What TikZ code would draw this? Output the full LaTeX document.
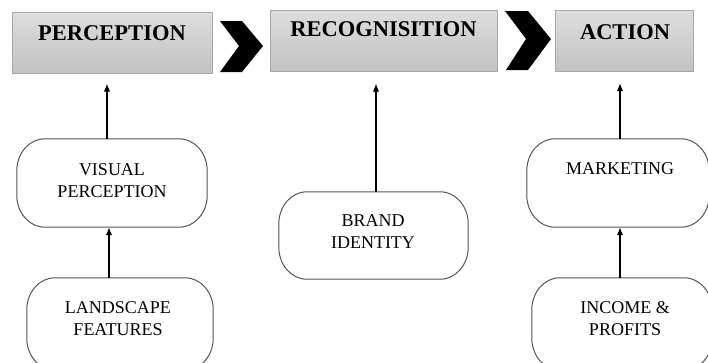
\documentclass[tikz,border=0pt]{standalone}
\usepackage{fontspec}
\setmainfont{Liberation Serif}
\usetikzlibrary{arrows.meta}
\definecolor{boxtop}{HTML}{DEDEDE}
\definecolor{boxbot}{HTML}{C2C2C2}
\definecolor{boxline}{HTML}{A8A8A8}
\definecolor{ovalline}{HTML}{555555}
\tikzset{
  stage/.style={draw=boxline, line width=1pt, top color=boxtop, bottom color=boxbot,
    minimum width=#1, minimum height=61pt, inner sep=0pt},
  stagetitle/.style={font=\fontsize{22.5}{24}\selectfont\bfseries, inner sep=0pt},
  oval/.style={minimum width=#1, minimum height=88pt, inner sep=0pt},
  ovalframe/.style={draw=ovalline, line width=1pt},
  ovaltext/.style={font=\fontsize{18}{22}\selectfont, align=center, inner sep=0pt},
  arr/.style={line width=1.5pt, -{Latex[length=8pt,width=6.5pt]}},
  chevron/.style={fill=black}
}
% outline of a box with elliptic corners around node #1
\newcommand\ovalframe[1]{%
  \draw[ovalframe] ([xshift=28pt]#1.north west) -- ([xshift=-28pt]#1.north east)
    arc[start angle=90, end angle=0, x radius=28pt, y radius=32pt]
    -- ([yshift=32pt]#1.south east)
    arc[start angle=0, end angle=-90, x radius=28pt, y radius=32pt]
    -- ([xshift=28pt]#1.south west)
    arc[start angle=270, end angle=180, x radius=28pt, y radius=32pt]
    -- ([yshift=-32pt]#1.north west)
    arc[start angle=180, end angle=90, x radius=28pt, y radius=32pt] -- cycle;}
\begin{document}
\begin{tikzpicture}[x=1pt,y=-1pt]
\useasboundingbox (0,0) rectangle (708,362);
\clip (0,0) rectangle (708,362);

% stage boxes along the top
\node[stage=200pt] (perc) at (112,42.5) {};
\node[stage=227pt] (recog) at (383.5,40.5) {};
\node[stage=138pt] (act) at (624,41) {};
\node[stagetitle] (percT) at (112,33) {PERCEPTION};
\node[stagetitle] (recogT) at (383.5,29) {RECOGNISITION};
\node[stagetitle] (actT) at (625,32) {ACTION};

% chevrons between the stages
\fill[chevron] (220,21) -- (242,21) -- (263,46) -- (242,72) -- (220,72) -- (239,46) -- cycle;
\fill[chevron] (505,11) -- (528,11) -- (551,39) -- (528,70) -- (506,70) -- (526,39) -- cycle;

% rounded boxes
\node[oval=190pt] (vis) at (112,183) {};
\node[oval=186pt, minimum height=92pt] (land) at (120,324) {};
\node[oval=189pt, minimum height=87pt] (brand) at (373.5,235.5) {};
\node[oval=182pt] (mkt) at (618,183) {};
\node[oval=180pt, minimum height=92pt] (inc) at (622,324) {};
\ovalframe{vis}
\ovalframe{land}
\ovalframe{brand}
\ovalframe{mkt}
\ovalframe{inc}

\node[ovaltext] (visT) at (112,181) {VISUAL\\PERCEPTION};
\node[ovaltext] (landT) at (118,319) {LANDSCAPE\\FEATURES};
\node[ovaltext] (brandT) at (373,231.5) {BRAND\\IDENTITY};
\node[ovaltext] (mktT) at (620,169) {MARKETING};
\node[ovaltext] (incT) at (625,319) {INCOME \&\\PROFITS};

% arrow columns
\coordinate (c1) at (107,0);
\coordinate (c2) at (109,0);
\coordinate (c3) at (376,0);
\coordinate (c4) at (620,0);

\draw[arr, shorten >=10pt] (vis.north -| c1) -- (perc.south -| c1);
\draw[arr] (land.north -| c2) -- (vis.south -| c2);
\draw[arr, shorten >=12pt] (brand.north -| c3) -- (recog.south -| c3);
\draw[arr, shorten >=11pt] (mkt.north -| c4) -- (act.south -| c4);
\draw[arr] (inc.north -| c4) -- (mkt.south -| c4);
\end{tikzpicture}
\end{document}
